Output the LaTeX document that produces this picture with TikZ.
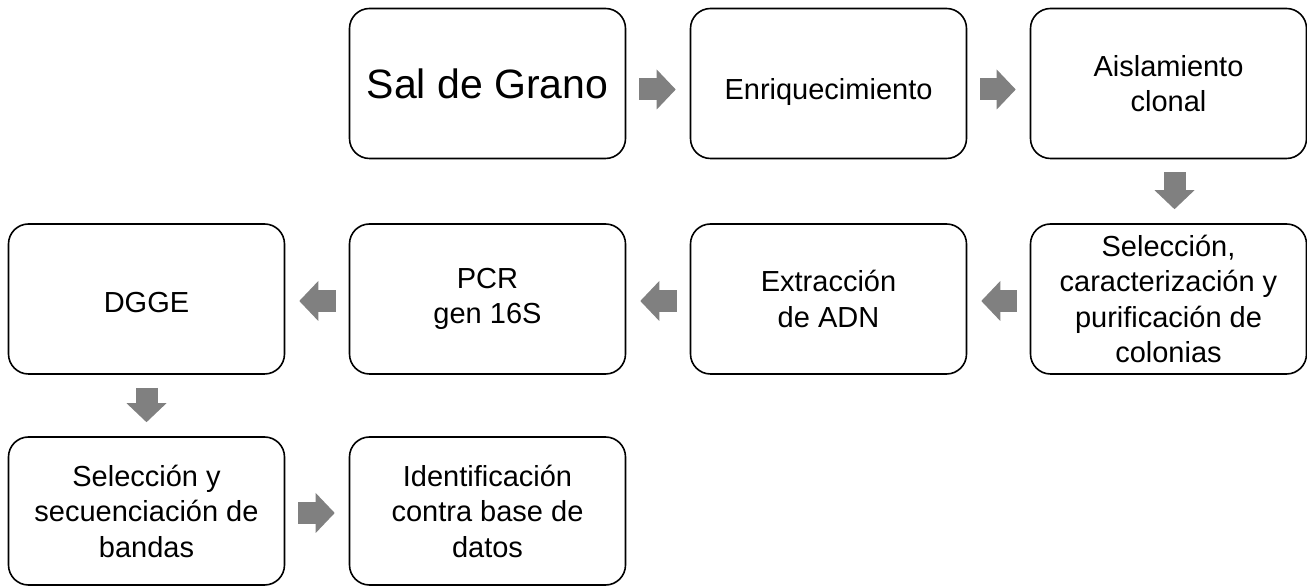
\documentclass[tikz,border=0pt]{standalone}
\usepackage{fontspec}
\setmainfont{Liberation Sans}
\usetikzlibrary{arrows.meta}

\tikzset{
  paso/.style={draw=black, line width=1.6pt, rounded corners=20pt,
    minimum width=276pt, minimum height=150pt, align=center,
    font=\fontsize{29}{35.5}\selectfont},
  flecha/.style={draw=gray, line width=22pt, shorten <=13pt, shorten >=14pt,
    -{Triangle[length=19pt,width=40pt,line width=0pt]}}
}

\begin{document}
\begin{tikzpicture}[x=1pt,y=1pt]
  \useasboundingbox (0,0) rectangle (1307,586);
  % first row
  \node[paso] (sal)  at (487.5,502.5) {\fontsize{41}{48}\selectfont Sal de Grano};
  \node[paso, text height=39pt, text depth=6pt] (enr) at (828.5,502.5) {Enriquecimiento};
  \node[paso] (ais)  at (1168.5,502.5) {Aislamiento\\clonal};
  % second row
  \node[paso] (sel)  at (1168.5,287) {Selección,\\caracterización y\\purificación de\\colonias};
  \node[paso] (ext)  at (828.5,287) {Extracción\\de ADN};
  \node[paso] (pcr)  at (487.5,287) {PCR\\gen 16S};
  \node[paso, text height=28pt, text depth=0pt] (dgge) at (146.5,287) {DGGE};
  % third row
  \node[paso, minimum height=148pt] (ban) at (146.5,75) {Selección y\\secuenciación de\\bandas};
  \node[paso, minimum height=148pt] (ide) at (487.5,75) {Identificación\\contra base de\\datos};

  \draw[flecha] ([yshift=-6pt]sal.east) -- ([yshift=-6pt]enr.west);
  \draw[flecha] ([yshift=-6pt]enr.east) -- ([yshift=-6pt]ais.west);
  \draw[flecha] ([xshift=6pt]ais.south) -- ([xshift=6pt]sel.north);
  \draw[flecha] ([yshift=-2pt]sel.west) -- ([yshift=-2pt]ext.east);
  \draw[flecha] ([yshift=-2pt]ext.west) -- ([yshift=-2pt]pcr.east);
  \draw[flecha] ([yshift=-2pt]pcr.west) -- ([yshift=-2pt]dgge.east);
  \draw[flecha] (dgge.south) -- (ban.north);
  \draw[flecha] ([yshift=-2pt]ban.east) -- ([yshift=-2pt]ide.west);
\end{tikzpicture}
\end{document}
